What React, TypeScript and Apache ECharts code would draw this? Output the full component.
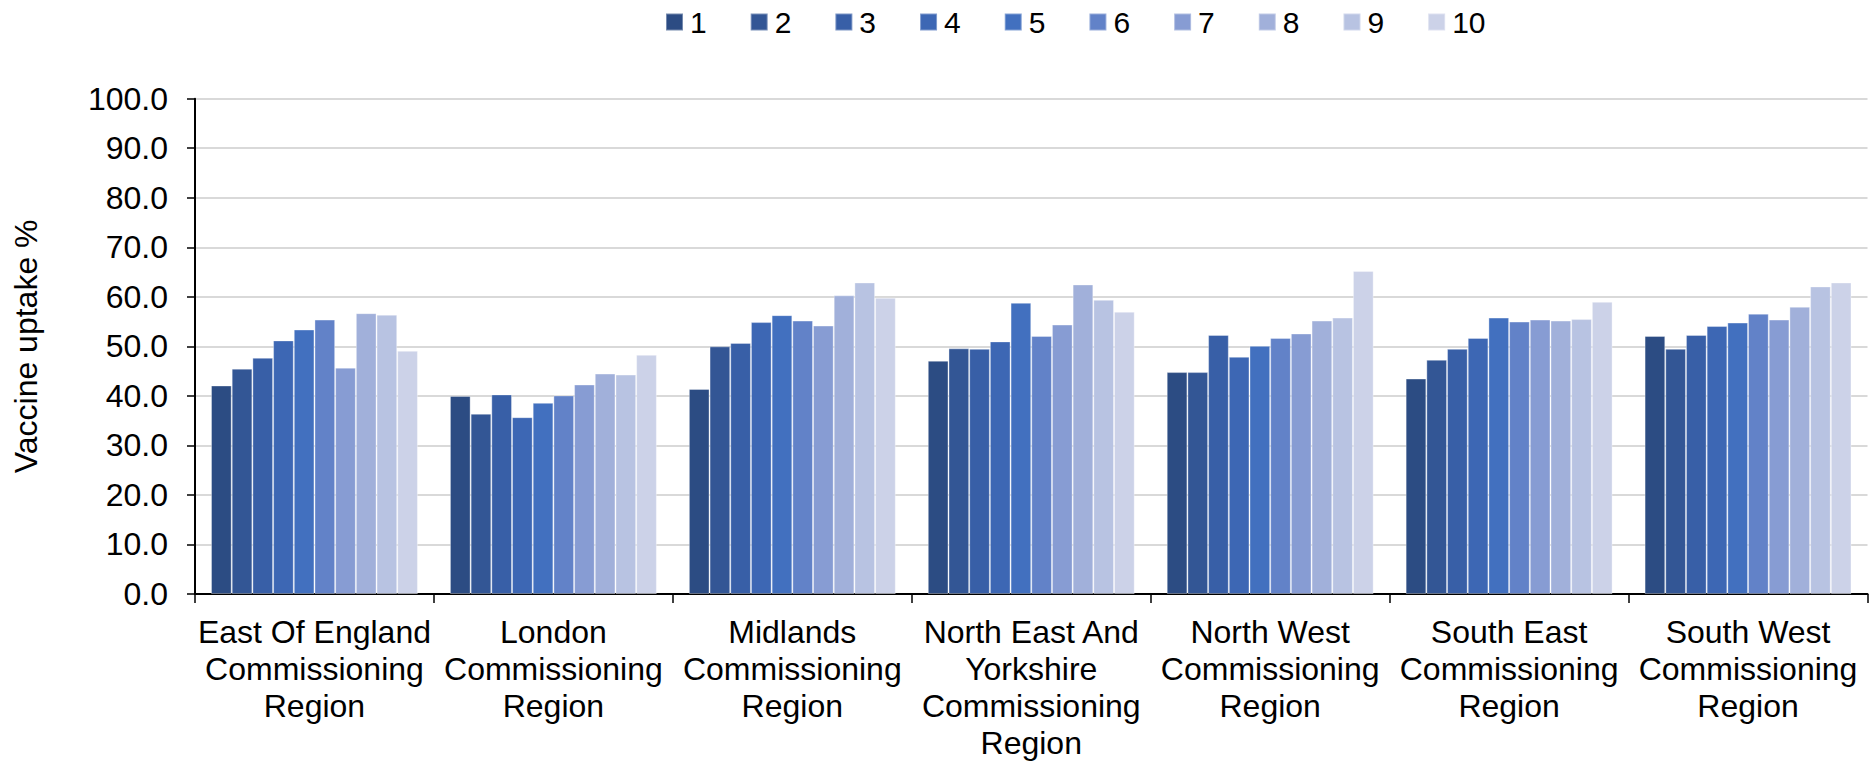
import React, { useEffect, useRef } from "react";
import * as echarts from "echarts";

// Regions on the category axis
const regions: string[] = [
  "East Of England\nCommissioning\nRegion",
  "London\nCommissioning\nRegion",
  "Midlands\nCommissioning\nRegion",
  "North East And\nYorkshire\nCommissioning\nRegion",
  "North West\nCommissioning\nRegion",
  "South East\nCommissioning\nRegion",
  "South West\nCommissioning\nRegion",
];

// Deprivation deciles (series names)
const deciles: string[] = ["1", "2", "3", "4", "5", "6", "7", "8", "9", "10"];

// Vaccine uptake % per decile, one value per region (in region order)
const decile1: number[] = [42.1, 40.0, 41.4, 47.1, 44.8, 43.5, 52.1];
const decile2: number[] = [45.5, 36.4, 50.0, 49.6, 44.8, 47.3, 49.5];
const decile3: number[] = [47.7, 40.3, 50.7, 49.5, 52.3, 49.5, 52.3];
const decile4: number[] = [51.2, 35.7, 54.9, 51.0, 47.9, 51.7, 54.1];
const decile5: number[] = [53.4, 38.6, 56.3, 58.8, 50.1, 55.8, 54.8];
const decile6: number[] = [55.4, 40.1, 55.2, 52.1, 51.7, 55.0, 56.6];
const decile7: number[] = [45.7, 42.3, 54.2, 54.4, 52.6, 55.4, 55.4];
const decile8: number[] = [56.7, 44.5, 60.3, 62.5, 55.2, 55.2, 58.0];
const decile9: number[] = [56.4, 44.3, 62.9, 59.4, 55.8, 55.5, 62.1];
const decile10: number[] = [49.1, 48.3, 59.8, 57.0, 65.2, 59.0, 62.9];

const decileValues: number[][] = [
  decile1, decile2, decile3, decile4, decile5,
  decile6, decile7, decile8, decile9, decile10,
];

// Monochrome blue ramp, darkest for decile 1
const palette: string[] = [
  "#2c4c83", "#335695", "#385fa7", "#3d67b4", "#4270bf",
  "#6282c8", "#879cd3", "#a1b0da", "#b8c3e2", "#ccd2e8",
];

const FONT = "'Liberation Sans', Arial, Helvetica, sans-serif";

export default function App() {
  const ref = useRef<HTMLDivElement>(null);

  useEffect(() => {
    if (!ref.current) return;
    const chart = echarts.init(ref.current, undefined, { renderer: "svg" });

    const series = deciles.map((name, i) => ({
      name,
      type: "bar" as const,
      data: decileValues[i],
      barGap: "0%",
      barCategoryGap: "13.4%",
      itemStyle: {
        color: palette[i],
        borderColor: "rgba(255,255,255,0.35)",
        borderWidth: 1,
      },
      emphasis: { disabled: true },
    }));

    chart.setOption({
      animation: false,
      backgroundColor: "#ffffff",
      textStyle: { fontFamily: FONT, color: "#000" },
      color: palette,
      legend: {
        data: deciles,
        left: 660,
        top: 2,
        icon: "rect",
        itemWidth: 17,
        itemHeight: 17,
        itemGap: 43,
        textStyle: {
          fontFamily: FONT,
          fontSize: 30,
          color: "#000",
          padding: [0, 0, 0, 2],
        },
      },
      grid: {
        left: 195,
        right: 4.5,
        top: 98.7,
        bottom: 164.3,
        containLabel: false,
      },
      xAxis: {
        type: "category",
        data: regions,
        axisLine: { show: true, lineStyle: { color: "#000", width: 2 } },
        axisTick: {
          show: true,
          length: 9,
          lineStyle: { color: "#000", width: 1.5 },
        },
        axisLabel: {
          interval: 0,
          margin: 19,
          fontFamily: FONT,
          fontSize: 32,
          lineHeight: 37,
          color: "#000",
          align: "center",
        },
        splitLine: { show: false },
      },
      yAxis: {
        type: "value",
        min: 0,
        max: 100,
        interval: 10,
        name: "Vaccine uptake %",
        nameLocation: "middle",
        nameRotate: 90,
        nameGap: 153,
        nameTextStyle: { fontFamily: FONT, fontSize: 32, color: "#000" },
        axisLine: { show: true, lineStyle: { color: "#000", width: 2 } },
        axisTick: {
          show: true,
          length: 8,
          lineStyle: { color: "#000", width: 1.5 },
        },
        axisLabel: {
          margin: 27,
          fontFamily: FONT,
          fontSize: 32,
          color: "#000",
          formatter: (v: number) => v.toFixed(1),
        },
        splitLine: { show: true, lineStyle: { color: "#d9d9d9", width: 2 } },
      },
      series,
    });

    return () => {
      chart.dispose();
    };
  }, []);

  return (
    <div
      ref={ref}
      style={{ position: "fixed", left: 0, top: 0, width: 1872, height: 761 }}
    />
  );
}
